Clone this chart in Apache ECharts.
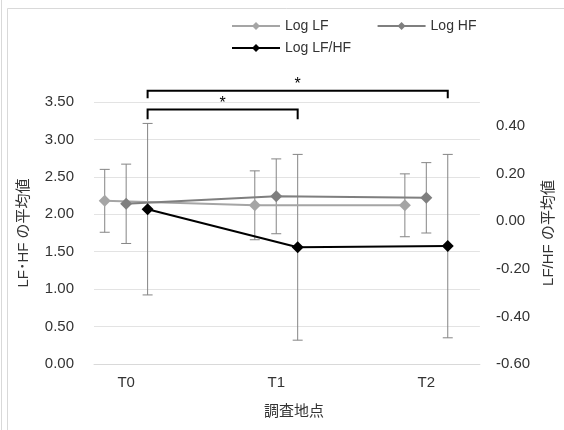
<!DOCTYPE html>
<html>
<head>
<meta charset="utf-8">
<script src="https://cdn.jsdelivr.net/npm/echarts@6/dist/echarts.min.js"></script>
<style>
html,body{margin:0;padding:0;background:#fff;}
#c{width:564px;height:430px;}
</style>
</head>
<body>
<div id="c"></div>
<script>
// ---- data ----
const timePoints = ['T0', 'T1', 'T2'];
const seriesNames = ['Log LF', 'Log HF', 'Log LF/HF'];
const logLF = [2.18, 2.12, 2.12];
const logLF_sd = [0.42, 0.46, 0.42];
const logHF = [2.14, 2.24, 2.22];
const logHF_sd = [0.53, 0.50, 0.47];
const logLFHF = [0.05, -0.11, -0.105];
const logLFHF_sd = [0.36, 0.39, 0.385];
const leftTicks = { min: 0, max: 3.5, interval: 0.5 };
const rightTicks = { min: -0.6, max: 0.5, interval: 0.2 };
// significance brackets: from time point, to time point, label
const bracketFrom = ['T0', 'T0'];
const bracketTo = ['T2', 'T1'];
const bracketLabel = ['*', '*'];
const bracketLevel = [3.65, 3.40];      // height of bar on left axis
const bracketLeftEnd = [3.55, 3.27];
const bracketRightEnd = [3.55, 3.27];

// ---- slot layout (Excel-style category slots) ----
const slotsPerGroup = 7, totalSlots = 18, labelSlot = 1;
const categories = [];
for (let i = 0; i < totalSlots; i++) categories.push('');
timePoints.forEach((t, g) => { categories[g * slotsPerGroup + labelSlot] = t; });

function slotData(vals, offset) {
  const arr = new Array(totalSlots).fill(null);
  vals.forEach((v, g) => { arr[g * slotsPerGroup + offset] = v; });
  return arr;
}
function errData(vals, sds, offset) {
  return vals.map((v, g) => [g * slotsPerGroup + offset, v - sds[g], v + sds[g]]);
}

const errColor = '#858585';
function errRender(params, api) {
  const x = api.value(0);
  const lo = api.coord([x, api.value(1)]);
  const hi = api.coord([x, api.value(2)]);
  const hw = 5;
  const st = { stroke: errColor, lineWidth: 1 };
  return {
    type: 'group',
    children: [
      { type: 'line', shape: { x1: lo[0], y1: lo[1], x2: hi[0], y2: hi[1] }, style: st },
      { type: 'line', shape: { x1: lo[0] - hw, y1: lo[1], x2: lo[0] + hw, y2: lo[1] }, style: st },
      { type: 'line', shape: { x1: hi[0] - hw, y1: hi[1], x2: hi[0] + hw, y2: hi[1] }, style: st }
    ]
  };
}

const bracketData = bracketFrom.map((f, i) => [
  timePoints.indexOf(f) * slotsPerGroup + 2,
  timePoints.indexOf(bracketTo[i]) * slotsPerGroup + 2,
  bracketLevel[i], bracketLeftEnd[i], bracketRightEnd[i], i
]);
function bracketRender(params, api) {
  const a = api.value(0), b = api.value(1);
  const top = api.value(2);
  const pL = api.coord([a, api.value(3)]);
  const pTL = api.coord([a, top]);
  const pTR = api.coord([b, top]);
  const pR = api.coord([b, api.value(4)]);
  const idx = api.value(5);
  return {
    type: 'group',
    children: [
      { type: 'polyline', shape: { points: [pL, pTL, pTR, pR] },
        style: { stroke: '#000', lineWidth: 2, fill: null } },
      { type: 'text', x: (pTL[0] + pTR[0]) / 2, y: pTL[1] + 2,
        style: { text: bracketLabel[idx], fill: '#000', fontSize: 16,
                 fontFamily: 'Liberation Sans', align: 'center', verticalAlign: 'bottom' } }
    ]
  };
}

const fontFam = '"Liberation Sans", "Noto Sans CJK JP", sans-serif';
const textColor = '#333';

const chart = echarts.init(document.getElementById('c'), null, { renderer: 'canvas' });
chart.setOption({
  animation: false,
  backgroundColor: '#fff',
  textStyle: { fontFamily: fontFam },
  graphic: [
    { type: 'line', shape: { x1: 1.5, y1: 0, x2: 1.5, y2: 430 }, style: { stroke: '#d9d9d9', lineWidth: 1 } },
    { type: 'rect', shape: { x: 7.5, y: 8.5, width: 700, height: 600 }, style: { stroke: '#d9d9d9', fill: null, lineWidth: 1 } }
  ],
  legend: [
    { data: ['Log LF', 'Log HF'], left: 231, top: 19, padding: 0, itemWidth: 48, itemHeight: 10, itemGap: 48,
      textStyle: { fontSize: 14, color: textColor, fontFamily: fontFam } },
    { data: ['Log LF/HF'], left: 231, top: 41, padding: 0, itemWidth: 48, itemHeight: 10,
      textStyle: { fontSize: 14, color: textColor, fontFamily: fontFam } }
  ],
  grid: { left: 94, right: 84, top: 102, bottom: 66 },
  xAxis: {
    type: 'category', data: categories, boundaryGap: true,
    axisLine: { lineStyle: { color: '#d9d9d9', width: 1 } },
    axisTick: { show: false },
    axisLabel: { interval: 0, color: textColor, fontSize: 15, margin: 11, fontFamily: fontFam },
    name: '調査地点', nameLocation: 'middle', nameGap: 40,
    nameTextStyle: { fontSize: 15, color: textColor, fontFamily: fontFam, padding: [0, 0, 0, 14] }
  },
  yAxis: [
    { type: 'value', min: leftTicks.min, max: leftTicks.max, interval: leftTicks.interval,
      axisLine: { show: false }, axisTick: { show: false },
      axisLabel: { formatter: v => v.toFixed(2), color: textColor, fontSize: 15, margin: 20, fontFamily: fontFam },
      splitLine: { lineStyle: { color: '#e3e3e3', width: 1 } },
      name: 'LF･HF の平均値', nameLocation: 'middle', nameGap: 63, nameRotate: 90,
      nameTextStyle: { fontSize: 15, color: textColor, fontFamily: fontFam } },
    { type: 'value', min: rightTicks.min, max: rightTicks.max, interval: rightTicks.interval, position: 'right',
      axisLine: { show: false }, axisTick: { show: false }, splitLine: { show: false },
      axisLabel: { formatter: v => v.toFixed(2), color: textColor, fontSize: 15, margin: 16,
                   showMaxLabel: false, fontFamily: fontFam },
      name: 'LF/HF の平均値', nameLocation: 'middle', nameGap: 60, nameRotate: 90,
      nameTextStyle: { fontSize: 15, color: textColor, fontFamily: fontFam } }
  ],
  series: [
    { type: 'custom', name: 'errLF', renderItem: errRender, data: errData(logLF, logLF_sd, 0),
      encode: { x: 0, y: [1, 2] }, yAxisIndex: 0, z: 1, silent: true, clip: false },
    { type: 'custom', name: 'errHF', renderItem: errRender, data: errData(logHF, logHF_sd, 1),
      encode: { x: 0, y: [1, 2] }, yAxisIndex: 0, z: 1, silent: true, clip: false },
    { type: 'custom', name: 'errLFHF', renderItem: errRender, data: errData(logLFHF, logLFHF_sd, 2),
      encode: { x: 0, y: [1, 2] }, yAxisIndex: 1, z: 1, silent: true, clip: false },
    { type: 'line', name: seriesNames[0], data: slotData(logLF, 0), connectNulls: true, yAxisIndex: 0,
      symbol: 'diamond', symbolSize: 12, z: 3,
      lineStyle: { color: '#a5a5a5', width: 2 }, itemStyle: { color: '#a5a5a5' } },
    { type: 'line', name: seriesNames[1], data: slotData(logHF, 1), connectNulls: true, yAxisIndex: 0,
      symbol: 'diamond', symbolSize: 12, z: 3,
      lineStyle: { color: '#7f7f7f', width: 2 }, itemStyle: { color: '#7f7f7f' } },
    { type: 'line', name: seriesNames[2], data: slotData(logLFHF, 2), connectNulls: true, yAxisIndex: 1,
      symbol: 'diamond', symbolSize: 12, z: 4,
      lineStyle: { color: '#000', width: 2 }, itemStyle: { color: '#000' } },
    { type: 'custom', name: 'brackets', renderItem: bracketRender, data: bracketData,
      encode: { x: [0, 1], y: 2 }, yAxisIndex: 0, z: 5, silent: true, clip: false }
  ]
});
</script>
</body>
</html>
